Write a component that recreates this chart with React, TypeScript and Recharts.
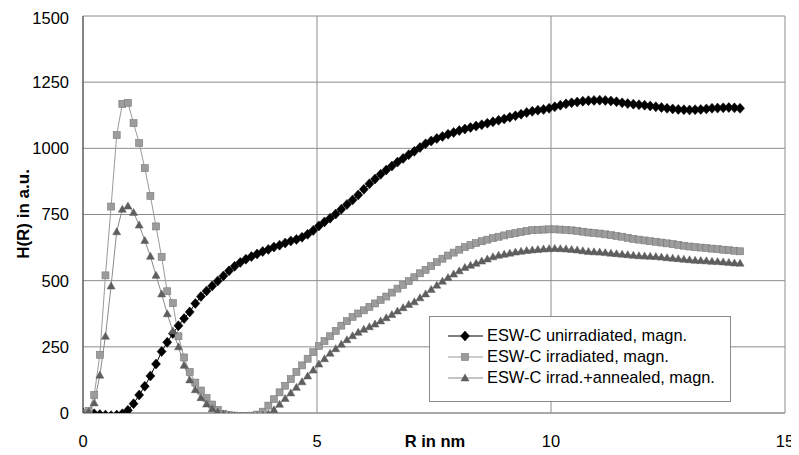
import React from 'react';
import { LineChart, Line, XAxis, YAxis, CartesianGrid, Legend } from 'recharts';

// R in nm
const rValues = [
  0, 0.12, 0.24, 0.36, 0.48, 0.6, 0.72, 0.84, 0.96, 1.08,
  1.2, 1.32, 1.44, 1.56, 1.68, 1.8, 1.92, 2.04, 2.16, 2.28,
  2.4, 2.52, 2.64, 2.76, 2.88, 3, 3.12, 3.24, 3.36, 3.48,
  3.6, 3.72, 3.84, 3.96, 4.08, 4.2, 4.32, 4.44, 4.56, 4.68,
  4.8, 4.92, 5.04, 5.16, 5.28, 5.4, 5.52, 5.64, 5.76, 5.88,
  6, 6.12, 6.24, 6.36, 6.48, 6.6, 6.72, 6.84, 6.96, 7.08,
  7.2, 7.32, 7.44, 7.56, 7.68, 7.8, 7.92, 8.04, 8.16, 8.28,
  8.4, 8.52, 8.64, 8.76, 8.88, 9, 9.12, 9.24, 9.36, 9.48,
  9.6, 9.72, 9.84, 9.96, 10.08, 10.2, 10.32, 10.44, 10.56, 10.68,
  10.8, 10.92, 11.04, 11.16, 11.28, 11.4, 11.52, 11.64, 11.76, 11.88,
  12, 12.12, 12.24, 12.36, 12.48, 12.6, 12.72, 12.84, 12.96, 13.08,
  13.2, 13.32, 13.44, 13.56, 13.68, 13.8, 13.92, 14.04,
];

const unirradiated = [
  0, 0, -3, -6, -8, -10, -8, -3, 10, 35,
  68, 101, 140, 185, 232, 267, 300, 330, 357, 382,
  414, 440, 461, 480, 499, 518, 537, 554, 569, 581,
  591, 601, 610, 618, 627, 634, 642, 650, 656, 664,
  675, 690, 707, 722, 736, 752, 770, 788, 805, 824,
  845, 866, 884, 902, 918, 933, 948, 962, 976, 989,
  1003, 1017, 1028, 1037, 1045, 1053, 1060, 1067, 1073, 1079,
  1084, 1089, 1095, 1100, 1106, 1111, 1117, 1123, 1129, 1135,
  1140, 1144, 1147, 1151, 1157, 1163, 1168, 1172, 1175, 1178,
  1180, 1181, 1182, 1181, 1179, 1176, 1172, 1169, 1167, 1165,
  1163, 1160, 1157, 1154, 1151, 1149, 1147, 1146, 1145, 1146,
  1147, 1149, 1151, 1152, 1153, 1154, 1153, 1151,
];

const irradiated = [
  0, 8, 68, 220, 520, 780, 1050, 1168, 1172, 1095,
  1020, 925, 820, 705, 590, 460, 415, 290, 210, 155,
  115, 85, 57, 32, 12, -3, -8, -10, -12, -12,
  -10, -6, 5, 28, 52, 78, 103, 128, 155, 180,
  205, 230, 253, 272, 290, 310, 330, 347, 363, 376,
  388, 401, 414, 427, 440, 455, 470, 484, 498, 513,
  528, 541, 555, 570, 583, 595, 606, 617, 627, 635,
  642, 649, 655, 661, 666, 671, 676, 680, 684, 688,
  691, 692, 693, 694, 694, 693, 692, 690, 688, 685,
  682, 680, 678, 675, 672, 669, 666, 662, 658, 655,
  652, 649, 647, 644, 641, 638, 635, 632, 629, 627,
  625, 623, 621, 619, 617, 615, 613, 611,
];

const annealed = [
  0, 5, 38, 143, 290, 480, 685, 770, 782, 758,
  710, 652, 592, 520, 450, 375, 310, 250, 180, 125,
  88, 58, 34, 16, 4, -4, -8, -10, -12, -12,
  -12, -10, -8, -3, 12, 33, 55, 76, 97, 118,
  140, 162, 185, 205, 226, 243, 260, 277, 292, 305,
  316, 326, 336, 348, 360, 372, 385, 398, 410, 420,
  435, 450, 467, 483, 498, 512, 525, 537, 550, 558,
  566, 574, 582, 590, 596, 600, 604, 608, 611, 614,
  616, 618, 620, 621, 622, 621, 620, 618, 616, 613,
  610, 609, 608, 606, 604, 602, 600, 598, 596, 594,
  593, 592, 591, 589, 587, 585, 583, 581, 579, 577,
  576, 575, 573, 572, 571, 569, 567, 566,
];

const xTicks = [0, 5, 10, 15];
const yTicks = [0, 250, 500, 750, 1000, 1250, 1500];

const data = rValues.map((r, i) => ({
  r,
  unirr: unirradiated[i],
  irr: irradiated[i],
  ann: annealed[i],
}));

const FONT = '"Liberation Sans", Arial, sans-serif';

const diamond = (cx: number, cy: number, fill: string, key?: any) => (
  <polygon key={key} points={`${cx},${cy - 5} ${cx + 4.5},${cy} ${cx},${cy + 5} ${cx - 4.5},${cy}`} fill={fill} stroke={fill} strokeWidth={0.5} />
);
const square = (cx: number, cy: number, fill: string, key?: any) => (
  <rect key={key} x={cx - 3.5} y={cy - 3.5} width={7} height={7} fill={fill} stroke="#7a7a7a" strokeWidth={0.6} />
);
const triangle = (cx: number, cy: number, fill: string, key?: any) => (
  <polygon key={key} points={`${cx},${cy - 4} ${cx + 4},${cy + 3} ${cx - 4},${cy + 3}`} fill={fill} stroke={fill} strokeWidth={0.5} />
);

const series = [
  { key: 'unirr', name: 'ESW-C unirradiated, magn.', line: '#000000', fill: '#000000', shape: diamond },
  { key: 'irr', name: 'ESW-C irradiated, magn.', line: '#9a9a9a', fill: '#9c9c9c', shape: square },
  { key: 'ann', name: 'ESW-C irrad.+annealed, magn.', line: '#8a8a8a', fill: '#5e5e5e', shape: triangle },
];

const LegendBox = () => (
  <div style={{ width: 302, height: 86, border: '1px solid #8a8a8a', background: '#fff', fontFamily: FONT, fontSize: 16.4, color: '#000', boxSizing: 'border-box', paddingTop: 8 }}>
    {series.map((s) => (
      <div key={s.key} style={{ display: 'flex', alignItems: 'center', height: 21 }}>
        <svg width={56} height={12} style={{ marginLeft: 16 }}>
          <line x1={2} y1={6} x2={37} y2={6} stroke={s.line} strokeWidth={1.2} />
          {s.shape(19, 6, s.fill)}
        </svg>
        <span style={{ marginLeft: -15 }}>{s.name}</span>
      </div>
    ))}
  </div>
);

const YLabel = () => (
  <text x={15} y={206} transform="rotate(-90 15 206)" textAnchor="middle" dominantBaseline="central" fontFamily={FONT} fontSize={17} fontWeight="bold" fill="#000">
    H(R) in a.u.
  </text>
);

const XLabel = () => (
  <text x={427} y={433} textAnchor="middle" dominantBaseline="central" fontFamily={FONT} fontSize={16.5} fontWeight="bold" fill="#000">
    R in nm
  </text>
);

export default function App() {
  return (
    <LineChart width={791} height={447} data={data} margin={{ top: 8, right: 14, bottom: 12, left: 0 }}>
      <CartesianGrid stroke="#8c8c8c" strokeWidth={1} />
      <XAxis
        dataKey="r"
        type="number"
        domain={[0, 15]}
        ticks={xTicks}
        allowDataOverflow
        height={30}
        axisLine={{ stroke: '#8c8c8c' }}
        tickLine={false}
        tickSize={0}
        tickMargin={22}
        tick={{ fontFamily: FONT, fontSize: 16.5, fill: '#000' }}
        label={<XLabel />}
      />
      <YAxis
        type="number"
        domain={[0, 1500]}
        ticks={yTicks}
        allowDataOverflow
        width={75}
        axisLine={{ stroke: '#444' }}
        tickLine={false}
        tickSize={0}
        tickMargin={14}
        tick={{ fontFamily: FONT, fontSize: 16.5, fill: '#000' }}
        label={<YLabel />}
      />
      <Legend
        layout="vertical"
        align="center"
        verticalAlign="middle"
        wrapperStyle={{ left: 421, top: 308, width: 302, height: 86 }}
        content={() => <LegendBox />}
      />
      {series.map((s) => (
        <Line
          key={s.key}
          dataKey={s.key}
          name={s.name}
          type="linear"
          stroke={s.line}
          strokeWidth={1}
          isAnimationActive={false}
          dot={(p: any) => s.shape(p.cx, p.cy, s.fill, p.key ?? `${s.key}-${p.index}`)}
          activeDot={false}
        />
      ))}
    </LineChart>
  );
}
